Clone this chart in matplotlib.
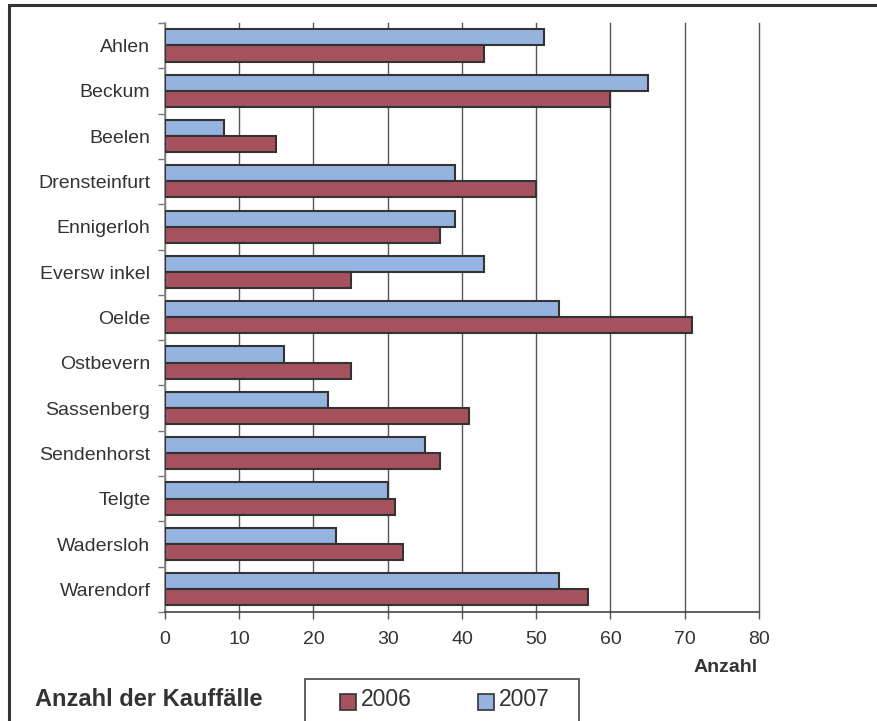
import matplotlib
matplotlib.use("Agg")
import matplotlib.pyplot as plt
import numpy as np
from matplotlib.patches import Rectangle

plt.rcParams['font.family'] = ['Liberation Sans', 'DejaVu Sans']

# data
orte = ["Ahlen", "Beckum", "Beelen", "Drensteinfurt", "Ennigerloh", "Eversw inkel",
        "Oelde", "Ostbevern", "Sassenberg", "Sendenhorst", "Telgte", "Wadersloh", "Warendorf"]
werte_2006 = [43, 60, 15, 50, 37, 25, 71, 25, 41, 37, 31, 32, 57]
werte_2007 = [51, 65, 8, 39, 39, 43, 53, 16, 22, 35, 30, 23, 53]
x_ticks = [0, 10, 20, 30, 40, 50, 60, 70, 80]

rot = "#A5525E"
blau = "#95B3DF"
rand = "#333333"
txt = "#333333"

fig = plt.figure(figsize=(8.78, 7.21), dpi=100)
ax = fig.add_axes([165/878, 1 - 612/721, (759-165)/878, (612-23)/721])

y = np.arange(len(orte))
h = 0.355
ax.barh(y - h/2 - 0.005, werte_2007, height=h, color=blau, edgecolor=rand, linewidth=1.5, zorder=3, label="2007")
ax.barh(y + h/2 - 0.005, werte_2006, height=h, color=rot, edgecolor=rand, linewidth=1.5, zorder=3, label="2006")

ax.set_xlim(0, 80)
ax.set_ylim(len(orte) - 0.5, -0.5)
ax.set_xticks(x_ticks)
ax.set_xticklabels([str(t) for t in x_ticks], fontsize=14, color=txt)
ax.tick_params(axis='x', direction='out', length=5, width=1, color='#555555', pad=9)

# ticks between categories, labels in the middle
ax.set_yticks(np.arange(len(orte) + 1) - 0.5)
ax.set_yticklabels([])
ax.set_yticks(y, minor=True)
ax.set_yticklabels(orte, minor=True, fontsize=14, color=txt)
ax.tick_params(axis='y', which='major', direction='out', length=5, width=1, color='#777777')
ax.tick_params(axis='y', which='minor', length=0, pad=10.5)

ax.grid(axis='x', color='#555555', linewidth=1.0, zorder=0)
for gl in ax.get_xgridlines():
    gl.set_clip_on(False)
ax.set_axisbelow(True)
for s in ['top', 'right']:
    ax.spines[s].set_visible(False)
ax.spines['left'].set_color('#888888')
ax.spines['bottom'].set_color('#444444')
ax.spines['left'].set_linewidth(1.2)
ax.spines['bottom'].set_linewidth(1.2)

fig.text(758/878, 1 - 668/721, "Anzahl", ha='right', va='center', fontsize=14, fontweight='bold', color=txt)
fig.text(35/878, 1 - 700/721, "Anzahl der Kauffälle", ha='left', va='center', fontsize=17, fontweight='bold', color=txt)

# legend box
fig.patches.append(Rectangle((305/878, -0.05), (579-305)/878, 0.05 + 1 - 679/721,
                             transform=fig.transFigure, fill=False, edgecolor='#444444', linewidth=1.2))
for sx, col, lab in [(340, rot, "2006"), (478, blau, "2007")]:
    fig.patches.append(Rectangle((sx/878, 1 - 710/721), 16/878, 16/721, transform=fig.transFigure,
                                 facecolor=col, edgecolor=rand, linewidth=1.2))
    fig.text((sx + 21)/878, 1 - 700/721, lab, ha='left', va='center', fontsize=16.5, color=txt)

# outer frame
fig.patches.append(Rectangle((9/878, -0.1), 1.2, 0.1 + 1 - 5/721, transform=fig.transFigure,
                             fill=False, edgecolor='#333333', linewidth=2.2))

fig.savefig("out.png", dpi=100)
